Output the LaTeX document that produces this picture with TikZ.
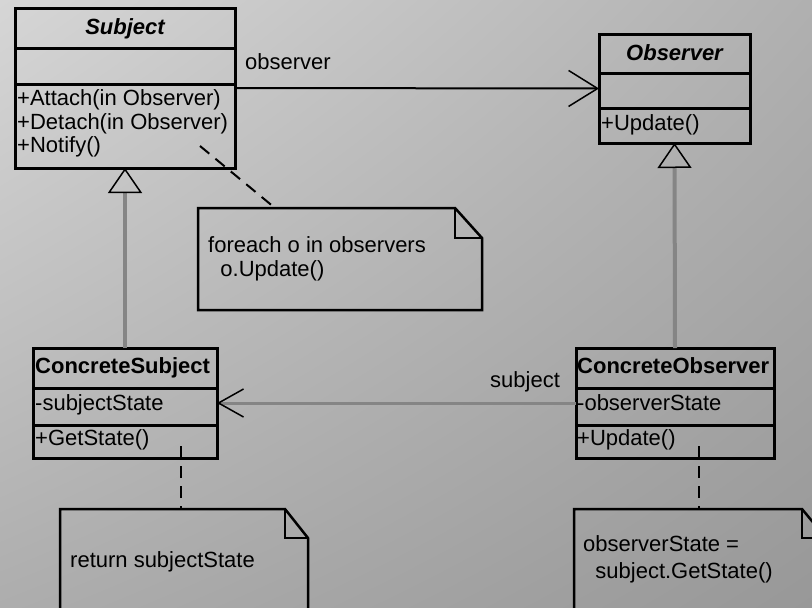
\documentclass[tikz,border=0pt]{standalone}
\usepackage{fontspec}
\setmainfont{Liberation Sans}
\usetikzlibrary{arrows.meta,calc,shadings}
\definecolor{bgTL}{HTML}{D6D6D6}
\definecolor{bgTR}{HTML}{B0B0B0}
\definecolor{bgBL}{HTML}{ADADAD}
\definecolor{bgBR}{HTML}{989898}
\definecolor{linkgrey}{HTML}{858585}
\begin{document}
\begin{tikzpicture}[x=1pt,y=-1pt,
  classbox/.style={draw=black, line width=3pt, inner sep=0pt, outer sep=0pt, anchor=north west},
  sepline/.style={draw=black, line width=3pt},
  txt/.style={anchor=base west, inner sep=0pt, font=\fontsize{22}{26}\selectfont},
  ttl/.style={anchor=base, inner sep=0pt, font=\fontsize{22}{26}\selectfont\bfseries\itshape},
  ctl/.style={anchor=base west, inner sep=0pt, font=\fontsize{22}{26}\selectfont\bfseries},
  assoc/.style={draw=black, line width=2pt, -{Straight Barb[length=29pt, width=36pt, line width=1.5pt]}},
  assocgrey/.style={draw=linkgrey, line width=3pt, -{Straight Barb[length=25pt, width=28pt, line width=1.5pt, color=black]}},
  inherit/.style={draw=linkgrey, line width=4pt, -{Triangle[open, length=25pt, width=34pt, line width=1.5pt, color=black]}},
  notelink/.style={draw=black, line width=2pt, dash pattern=on 12pt off 8pt},
  notebox/.style={inner sep=0pt, outer sep=0pt, anchor=north west},
  noteline/.style={draw=black, line width=2.5pt, line join=miter}
]
\useasboundingbox (0,0) rectangle (812,608);
\clip (0,0) rectangle (812,608);
\shade[upper left=bgTL, upper right=bgTR, lower left=bgBL, lower right=bgBR] (0,0) rectangle (812,608);

% ---- class boxes ----
\node[classbox, minimum width=220pt, minimum height=160pt] (subject) at (15,8) {};
\node[classbox, minimum width=151pt, minimum height=109pt] (observer) at (599,34) {};
\node[classbox, minimum width=184pt, minimum height=110pt] (csubj) at (33,348) {};
\node[classbox, minimum width=198pt, minimum height=110pt] (cobs) at (576,348) {};

% compartment separators
\draw[sepline] ($(subject.north west)+(0,40)$) -- ($(subject.north east)+(0,40)$);
\draw[sepline] ($(subject.north west)+(0,76)$) -- ($(subject.north east)+(0,76)$);
\draw[sepline] ($(observer.north west)+(0,39)$) -- ($(observer.north east)+(0,39)$);
\draw[sepline] ($(observer.north west)+(0,74)$) -- ($(observer.north east)+(0,74)$);
\draw[sepline] ($(csubj.north west)+(0,40)$) -- ($(csubj.north east)+(0,40)$);
\draw[sepline] ($(csubj.north west)+(0,77)$) -- ($(csubj.north east)+(0,77)$);
\draw[sepline] ($(cobs.north west)+(0,40)$) -- ($(cobs.north east)+(0,40)$);
\draw[sepline] ($(cobs.north west)+(0,77)$) -- ($(cobs.north east)+(0,77)$);

% class texts
\node[ttl] (subject-name) at (125,34) {Subject};
\node[txt] (subject-m1) at (17,105) {+Attach(in Observer)};
\node[txt] (subject-m2) at (17,129) {+Detach(in Observer)};
\node[txt] (subject-m3) at (17,152) {+Notify()};

\node[ttl] (observer-name) at (674.5,60) {Observer};
\node[txt] (observer-m1) at (601,130) {+Update()};

\node[ctl] (csubj-name) at (35,373) {ConcreteSubject};
\node[txt] (csubj-a1) at (35,410) {-subjectState};
\node[txt] (csubj-m1) at (35,445) {+GetState()};

\node[ctl] (cobs-name) at (577,373) {ConcreteObserver};
\node[txt] (cobs-a1) at (577,410) {-observerState};
\node[txt] (cobs-m1) at (577,445) {+Update()};

% ---- notes ----
\node[notebox, minimum width=284pt, minimum height=102pt] (note1) at (198,208) {};
\node[notebox, minimum width=248pt, minimum height=140pt] (note2) at (60,509) {};
\node[notebox, minimum width=252pt, minimum height=140pt] (note3) at (574,509) {};

\draw[noteline] (note1.south west) -- (note1.north west) -- ($(note1.north east)+(-27,0)$)
  -- ($(note1.north east)+(0,30)$) -- (note1.south east) -- cycle;
\draw[noteline] ($(note1.north east)+(-27,0)$) |- ($(note1.north east)+(0,30)$);

\draw[noteline] (note2.south west) -- (note2.north west) -- ($(note2.north east)+(-23,0)$)
  -- ($(note2.north east)+(0,29)$) -- (note2.south east) -- cycle;
\draw[noteline] ($(note2.north east)+(-23,0)$) |- ($(note2.north east)+(0,29)$);

\draw[noteline] (note3.south west) -- (note3.north west) -- ($(note3.north east)+(-24,0)$)
  -- ($(note3.north east)+(0,29)$) -- (note3.south east) -- cycle;
\draw[noteline] ($(note3.north east)+(-24,0)$) |- ($(note3.north east)+(0,29)$);

\node[txt] (note1-l1) at (208,252) {foreach o in observers};
\node[txt] (note1-l2) at (208,276) {\ \ o.Update()};
\node[txt] (note2-l1) at (70,567) {return subjectState};
\node[txt] (note3-l1) at (583,551) {observerState =};
\node[txt] (note3-l2) at (583,578) {\ \ subject.GetState()};

% ---- connectors ----
\draw[assoc] (subject.east) -- (observer.west);
\node[txt] (assoc-obs) at (245,69) {observer};
\draw[assocgrey] (cobs.west) -- (csubj.east);
\node[txt] (assoc-subj) at (490,387) {subject};

\draw[inherit] (csubj.north) -- (subject.south);
\draw[inherit] (cobs.north) -- (observer.south);

\draw[notelink] ($(subject.south east)+(-35,-22)$) -- ($(note1.north west)+(77,0)$);
\draw[notelink] ($(csubj.south)+(56,-12)$) -- ($(note2.north west)+(121,0)$);
\draw[notelink] ($(cobs.south)+(24,-12)$) -- ($(note3.north west)+(125,0)$);
\end{tikzpicture}
\end{document}
